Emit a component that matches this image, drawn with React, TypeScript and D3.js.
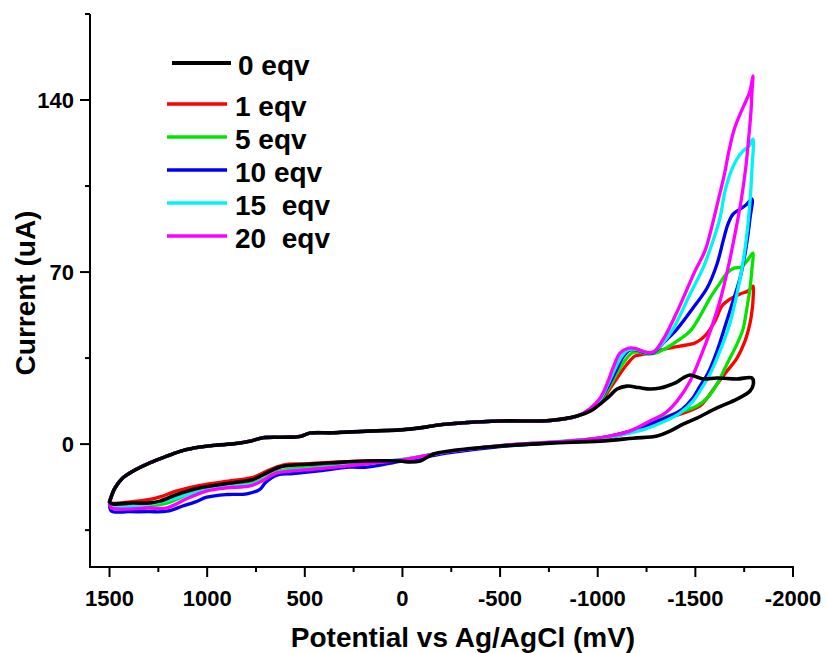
import React from "react";
import * as d3 from "d3";

type Pt = [number, number];

// Potential (mV), Current (uA)
const upperBranch: Pt[] = [
  [1500, -23.5], [1472, -17.8], [1431, -13.7], [1380, -11], [1293, -7.6], [1206, -4.9],
  [1124, -2.6], [1037, -1.2], [950, -0.4], [868, 0.1], [781, 1.2], [714, 2.6], [612, 2.8],
  [525, 3.1], [473, 4.5], [356, 4.6], [181, 5.3], [12, 5.8], [-90, 6.6], [-208, 8],
  [-500, 9.4], [-756, 9.6], [-894, 11.4],
];

const eqv0Right: Pt[] = [
  [-961, 13.4], [-1012, 16.3], [-1060, 19.5], [-1099, 22.4], [-1150, 23.6], [-1210, 23],
  [-1268, 22.4], [-1320, 22.8], [-1355, 23.6], [-1400, 25], [-1437, 26.9], [-1473, 28.1],
  [-1539, 26.5], [-1611, 26.9], [-1713, 26.5], [-1790, 26.9], [-1797, 24.4], [-1780, 21.6],
  [-1713, 18.3], [-1611, 14.7], [-1508, 10.6], [-1437, 8.1], [-1370, 5.3], [-1304, 3.3],
  [-1181, 2.4], [-1012, 1.2],
];
const eqv0Lower: Pt[] = [
  [-756, 0.4], [-500, -0.8], [-244, -2.8], [-156, -4.1], [-90, -6.9], [-39, -7.3], [12, -6.9],
  [181, -6.9], [356, -7.6], [438, -8], [612, -9], [650, -10], [694, -11.7], [765, -14.4],
  [868, -15.7], [1037, -17.8], [1154, -20.5], [1242, -23.2], [1293, -23.9], [1395, -24],
  [1487, -24.3], [1500, -23.5],
];

const eqv1Right: Pt[] = [
  [-961, 13.5], [-1012, 16.5], [-1050, 21], [-1100, 27], [-1150, 32.5], [-1190, 35.8],
  [-1230, 36.5], [-1268, 37], [-1345, 38.7], [-1421, 39.9], [-1498, 41.1], [-1549, 44],
  [-1601, 50.1], [-1636, 56.2], [-1677, 59], [-1729, 61.1], [-1770, 62.3], [-1795, 64.3],
  [-1797, 61], [-1785, 51.3], [-1770, 46], [-1754, 41.9], [-1713, 35], [-1662, 29.7],
  [-1611, 24.4], [-1560, 18.7], [-1524, 15.5], [-1437, 12.6], [-1355, 10.6], [-1268, 8.1],
  [-1181, 5.3], [-1099, 3.3], [-1012, 2],
];
const eqv1Lower: Pt[] = [
  [-756, 0.5], [-500, -0.8], [-244, -3], [-100, -5], [12, -6.5], [181, -6.8], [356, -7.3],
  [500, -8], [612, -8.5], [694, -11], [765, -13.5], [868, -14.8], [1037, -16.8], [1154, -19],
  [1242, -21.5], [1293, -22.5], [1395, -23.5], [1490, -24], [1500, -23.5],
];

const eqv5Right: Pt[] = [
  [-961, 13.8], [-1012, 17.3], [-1050, 22], [-1100, 29], [-1140, 34], [-1175, 37],
  [-1210, 37.5], [-1250, 36.8], [-1293, 37], [-1350, 39], [-1406, 41.9], [-1473, 46],
  [-1524, 52.1], [-1575, 59.4], [-1626, 65.5], [-1662, 69.6], [-1698, 71.6], [-1734, 72],
  [-1764, 74.5], [-1795, 77.7], [-1790, 71.6], [-1780, 63.5], [-1764, 55.4], [-1744, 46.8],
  [-1713, 40.7], [-1662, 32.6], [-1611, 24.4], [-1560, 18.7], [-1508, 15.5], [-1437, 13.4],
  [-1334, 10.6], [-1232, 6.5], [-1129, 4.1], [-1012, 2.4],
];
const eqv5Lower: Pt[] = [
  [-756, 0.6], [-500, -0.7], [-244, -3], [-100, -5], [12, -6.5], [181, -7.5], [356, -8.5],
  [500, -9.5], [643, -11.2], [720, -14.5], [780, -16], [900, -16.8], [1000, -18], [1100, -20.5],
  [1206, -24], [1300, -25], [1490, -25], [1500, -23.5],
];

const eqv10Right: Pt[] = [
  [-961, 14], [-1012, 17.8], [-1050, 23], [-1095, 30], [-1130, 35.5], [-1165, 38.3],
  [-1200, 38.3], [-1240, 37.2], [-1280, 37], [-1345, 41.9], [-1406, 46.8], [-1488, 55.4],
  [-1560, 63.5], [-1611, 73.3], [-1642, 82.6], [-1667, 89.5], [-1693, 93.6], [-1729, 95.6],
  [-1759, 97.3], [-1790, 99.7], [-1780, 92], [-1770, 85.5], [-1754, 77.3], [-1729, 67.6],
  [-1693, 58.2], [-1657, 49.2], [-1611, 37.9], [-1565, 28.9], [-1524, 23.6], [-1483, 18.3],
  [-1432, 14.2], [-1355, 10.9], [-1268, 8.1], [-1165, 5.3], [-1063, 3.3], [-961, 2],
];
const eqv10Lower: Pt[] = [
  [-756, 0.5], [-500, -1], [-244, -3.5], [-100, -5.5], [12, -7], [181, -9.4], [270, -9.4],
  [438, -11], [560, -12], [643, -12.6], [700, -15.5], [730, -18.4], [797, -20.2], [900, -20.5],
  [1002, -21.6], [1060, -23.5], [1125, -25.2], [1206, -27.3], [1300, -27.5], [1400, -27.5],
  [1490, -27.3], [1500, -25],
];

const eqv15Right: Pt[] = [
  [-961, 14], [-1012, 18], [-1050, 24], [-1090, 31], [-1125, 36], [-1160, 38.5],
  [-1200, 38.5], [-1240, 37.5], [-1275, 37.2], [-1319, 39.9], [-1385, 46.8], [-1473, 61.1],
  [-1539, 71.6], [-1590, 82.6], [-1626, 92], [-1652, 103], [-1683, 111.1], [-1713, 116],
  [-1744, 119.3], [-1775, 121.3], [-1795, 124.1], [-1790, 112.3], [-1780, 98.9],
  [-1764, 85.5], [-1739, 71.6], [-1713, 61.1], [-1677, 49.2], [-1626, 37.9], [-1575, 28.5],
  [-1539, 23.6], [-1488, 17.5], [-1421, 12.6], [-1345, 9.4], [-1242, 6.1], [-1140, 4.1],
  [-1012, 2.4],
];
const eqv15Lower: Pt[] = [
  [-756, 0.8], [-500, -0.6], [-244, -3], [-100, -5], [12, -6.3], [181, -7.8], [356, -9.2],
  [500, -10.2], [643, -11.5], [720, -14.8], [780, -16.5], [900, -17.3], [1000, -18.5],
  [1100, -20.5], [1206, -23], [1300, -24.5], [1400, -25.5], [1490, -25.5], [1500, -24.5],
];

const eqv20Right: Pt[] = [
  [-961, 14.5], [-1012, 18.7], [-1050, 25], [-1078, 31], [-1114, 37], [-1155, 39],
  [-1190, 39], [-1230, 37.8], [-1268, 37.2], [-1293, 37.9], [-1345, 44], [-1396, 52.1],
  [-1447, 61.1], [-1498, 70.4], [-1549, 78.6], [-1585, 88.7], [-1616, 98.9], [-1647, 109.1],
  [-1672, 119.3], [-1698, 127.8], [-1729, 134.3], [-1759, 139.6], [-1780, 143.7],
  [-1795, 149.8], [-1790, 143.7], [-1785, 135.5], [-1775, 126.2], [-1759, 113.1],
  [-1734, 98.9], [-1703, 85.5], [-1667, 71.6], [-1626, 58.2], [-1580, 46.8], [-1524, 35],
  [-1473, 25.6], [-1406, 17.5], [-1345, 12.6], [-1268, 9.4], [-1165, 5.3], [-1063, 3.3],
  [-961, 2],
];
const eqv20Lower: Pt[] = [
  [-756, 0.8], [-500, -0.6], [-244, -3], [-100, -5], [12, -6.5], [181, -8], [356, -9.5],
  [500, -10.5], [643, -11.7], [720, -15], [780, -17], [900, -17.8], [1000, -19], [1100, -22],
  [1206, -25.9], [1300, -26], [1490, -26], [1500, -24.5],
];

const seriesLabels = ["0 eqv", "1 eqv", "5 eqv", "10 eqv", "15  eqv", "20  eqv"];
const seriesColors = ["#000000", "#ff0000", "#00e600", "#0000ee", "#00f4f4", "#ff00ff"];

const xMajorTicks = [1500, 1000, 500, 0, -500, -1000, -1500, -2000];
const xTickLabels = ["1500", "1000", "500", "0", "-500", "-1000", "-1500", "-2000"];
const xMinorTicks = [1250, 750, 250, -250, -750, -1250, -1750];
const yMajorTicks = [0, 70, 140];
const yTickLabels = ["0", "70", "140"];
const yMinorTicks = [-35, 35, 105, 175];

const W = 827;
const H = 653;
const FONT = "'Liberation Sans', Arial, sans-serif";

export default function App() {
  const x = d3.scaleLinear().domain([1600, -2000]).range([90, 793]);
  const y = d3.scaleLinear().domain([-50, 175]).range([567, 14]);

  const curves: Pt[][] = [
    [...upperBranch, ...eqv0Right, ...eqv0Lower],
    [...upperBranch, ...eqv1Right, ...eqv1Lower],
    [...upperBranch, ...eqv5Right, ...eqv5Lower],
    [...upperBranch, ...eqv10Right, ...eqv10Lower],
    [...upperBranch, ...eqv15Right, ...eqv15Lower],
    [...upperBranch, ...eqv20Right, ...eqv20Lower],
  ];

  const line = d3
    .line<Pt>()
    .x((d) => x(d[0]))
    .y((d) => y(d[1]))
    .curve(d3.curveCatmullRom.alpha(0.5));

  const drawOrder = [1, 2, 3, 4, 5, 0];
  const x0 = x.range()[0];
  const x1 = x.range()[1];
  const yBottom = y.range()[0];
  const yTop = y.range()[1];

  const legendRows = [63, 104, 137, 170, 203, 236];

  return (
    <svg
      width={W}
      height={H}
      style={{ position: "absolute", left: 0, top: 0, display: "block", background: "#fff" }}
      fontFamily={FONT}
    >
      {/* curves */}
      {drawOrder.map((i) => (
        <path
          key={i}
          d={line(curves[i]) || ""}
          fill="none"
          stroke={seriesColors[i]}
          strokeWidth={i === 0 ? 3.6 : 3.3}
          strokeLinejoin="round"
          strokeLinecap="round"
        />
      ))}

      {/* axes */}
      <line x1={x0} y1={yTop} x2={x0} y2={yBottom + 1} stroke="#000" strokeWidth={2} />
      <line x1={x0 - 1} y1={yBottom} x2={x1 + 1} y2={yBottom} stroke="#000" strokeWidth={2} />

      {xMajorTicks.map((t, i) => (
        <g key={"xm" + t}>
          <line x1={x(t)} x2={x(t)} y1={yBottom} y2={yBottom + 10} stroke="#000" strokeWidth={2} />
          <text x={x(t)} y={606} textAnchor="middle" fontSize={22} fontWeight="bold">
            {xTickLabels[i]}
          </text>
        </g>
      ))}
      {xMinorTicks.map((t) => (
        <line key={"xn" + t} x1={x(t)} x2={x(t)} y1={yBottom} y2={yBottom + 5} stroke="#000" strokeWidth={2} />
      ))}
      {yMajorTicks.map((t, i) => (
        <g key={"ym" + t}>
          <line x1={x0 - 10} x2={x0} y1={y(t)} y2={y(t)} stroke="#000" strokeWidth={2} />
          <text x={x0 - 16} y={y(t)} dy="0.36em" textAnchor="end" fontSize={22} fontWeight="bold">
            {yTickLabels[i]}
          </text>
        </g>
      ))}
      {yMinorTicks.map((t) => (
        <line key={"yn" + t} x1={x0 - 5} x2={x0} y1={y(t)} y2={y(t)} stroke="#000" strokeWidth={2} />
      ))}

      {/* axis titles */}
      <text x={463} y={647} textAnchor="middle" fontSize={28} fontWeight="bold">
        Potential vs Ag/AgCl (mV)
      </text>
      <text
        transform={`translate(35, 293) rotate(-90)`}
        textAnchor="middle"
        fontSize={28}
        fontWeight="bold"
      >
        Current (uA)
      </text>

      {/* legend */}
      {seriesLabels.map((lab, i) => (
        <g key={lab}>
          <line
            x1={i === 0 ? 172 : 167}
            x2={i === 0 ? 231 : 227}
            y1={legendRows[i]}
            y2={legendRows[i]}
            stroke={seriesColors[i]}
            strokeWidth={i === 0 ? 4 : 3.5}
          />
          <text
            x={i === 0 ? 238 : 235}
            y={legendRows[i] + 12}
            fontSize={28}
            fontWeight="bold"
            style={{ whiteSpace: "pre" }}
          >
            {lab}
          </text>
        </g>
      ))}
    </svg>
  );
}
